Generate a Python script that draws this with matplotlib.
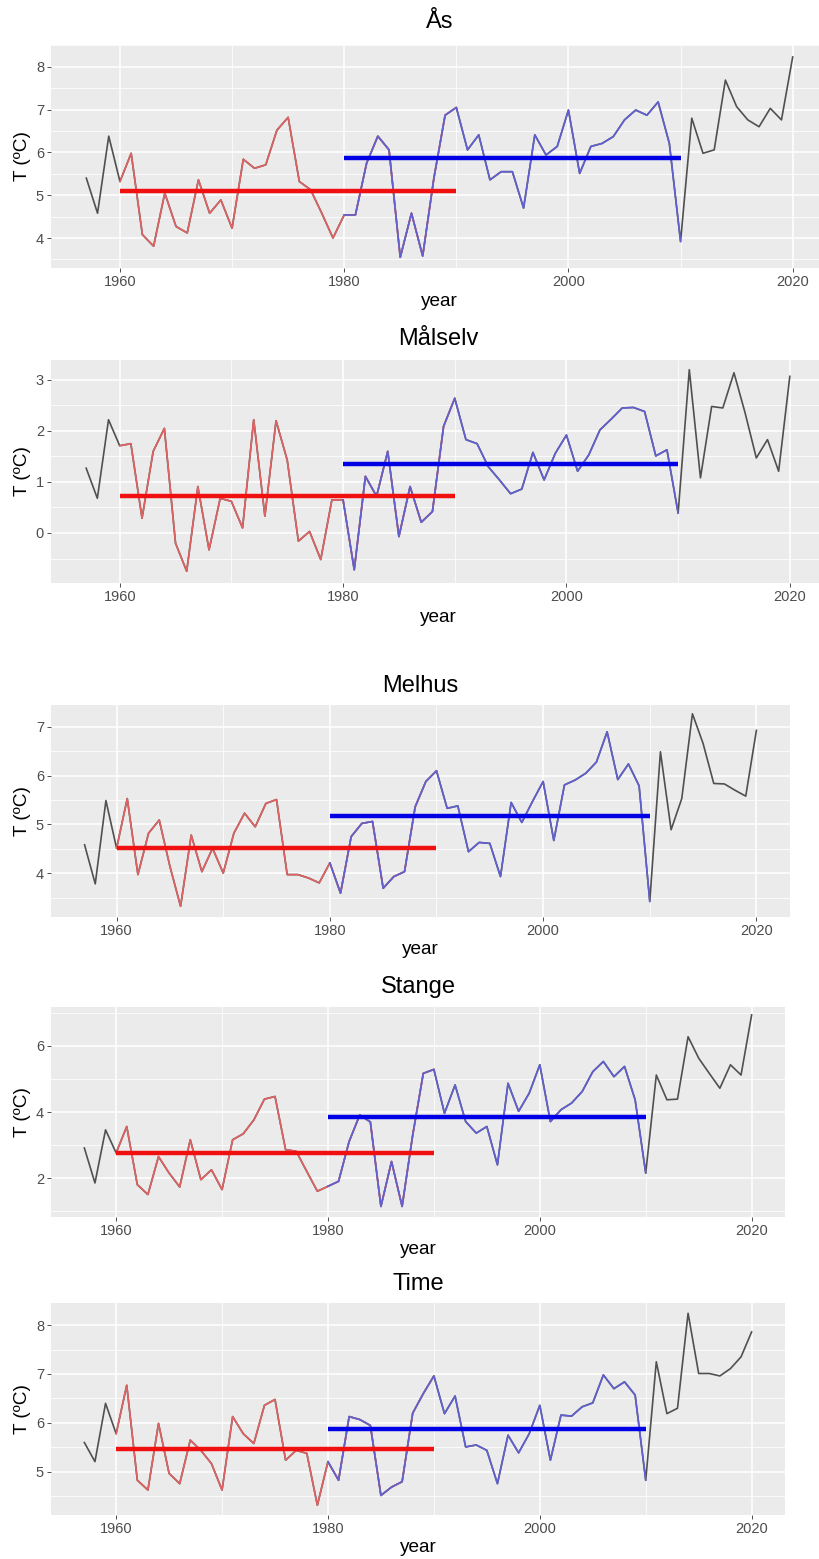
import numpy as np
import matplotlib
matplotlib.use("Agg")
import matplotlib.pyplot as plt
from matplotlib.ticker import MultipleLocator

plt.rcParams["font.family"] = ["Liberation Sans", "DejaVu Sans"]

# annual mean temperature, 1957-2020
years = np.arange(1957, 2021)

stations = ["Ås", "Målselv", "Melhus", "Stange", "Time"]

t_as = [5.40, 4.58, 6.38, 5.32, 5.98, 4.08, 3.81, 5.05, 4.27, 4.12,
        5.36, 4.58, 4.89, 4.23, 5.84, 5.63, 5.71, 6.52, 6.82, 5.32,
        5.13, 4.58, 4.00, 4.54, 4.54, 5.75, 6.38, 6.06, 3.55, 4.58,
        3.58, 5.40, 6.87, 7.05, 6.06, 6.41, 5.36, 5.55, 5.55, 4.70,
        6.41, 5.94, 6.14, 6.99, 5.51, 6.14, 6.21, 6.37, 6.76, 6.99,
        6.87, 7.18, 6.21, 3.92, 6.80, 5.98, 6.06, 7.69, 7.07, 6.76,
        6.60, 7.03, 6.76, 8.23]

t_malselv = [1.27, 0.68, 2.22, 1.71, 1.75, 0.29, 1.60, 2.05, -0.20, -0.75,
             0.91, -0.33, 0.68, 0.62, 0.10, 2.22, 0.33, 2.20, 1.43, -0.16,
             0.03, -0.52, 0.65, 0.65, -0.72, 1.11, 0.72, 1.60, -0.07, 0.91,
             0.21, 0.42, 2.09, 2.64, 1.83, 1.75, 1.30, 1.04, 0.77, 0.86,
             1.58, 1.04, 1.56, 1.92, 1.21, 1.53, 2.02, 2.23, 2.45, 2.46,
             2.38, 1.51, 1.63, 0.39, 3.20, 1.08, 2.48, 2.45, 3.14, 2.35,
             1.47, 1.83, 1.21, 3.07]

t_melhus = [4.58, 3.78, 5.49, 4.51, 5.53, 3.97, 4.82, 5.09, 4.14, 3.32,
            4.78, 4.03, 4.51, 4.00, 4.82, 5.23, 4.95, 5.43, 5.51, 3.97,
            3.97, 3.90, 3.80, 4.21, 3.59, 4.75, 5.02, 5.06, 3.69, 3.93,
            4.03, 5.36, 5.88, 6.10, 5.33, 5.38, 4.44, 4.63, 4.61, 3.93,
            5.45, 5.04, 5.47, 5.88, 4.67, 5.81, 5.91, 6.05, 6.28, 6.90,
            5.92, 6.24, 5.79, 3.42, 6.49, 4.89, 5.53, 7.27, 6.66, 5.84,
            5.83, 5.70, 5.58, 6.93]

t_stange = [2.91, 1.85, 3.46, 2.76, 3.56, 1.80, 1.50, 2.65, 2.15, 1.73,
            3.16, 1.95, 2.25, 1.65, 3.16, 3.34, 3.76, 4.39, 4.47, 2.86,
            2.81, 2.20, 1.60, 1.75, 1.90, 3.11, 3.91, 3.70, 1.14, 2.50,
            1.14, 3.30, 5.17, 5.29, 3.96, 4.82, 3.71, 3.36, 3.56, 2.40,
            4.87, 4.02, 4.57, 5.43, 3.71, 4.07, 4.27, 4.62, 5.22, 5.53,
            5.07, 5.38, 4.37, 2.15, 5.12, 4.37, 4.39, 6.28, 5.63, 5.17,
            4.72, 5.43, 5.12, 6.94]

t_time = [5.60, 5.21, 6.40, 5.78, 6.77, 4.83, 4.63, 5.99, 4.97, 4.76,
          5.65, 5.44, 5.17, 4.63, 6.13, 5.78, 5.58, 6.36, 6.48, 5.24,
          5.44, 5.38, 4.32, 5.21, 4.83, 6.13, 6.07, 5.95, 4.52, 4.69,
          4.80, 6.20, 6.60, 6.96, 6.19, 6.55, 5.51, 5.55, 5.44, 4.76,
          5.75, 5.39, 5.78, 6.36, 5.24, 6.16, 6.14, 6.33, 6.41, 6.98,
          6.70, 6.84, 6.57, 4.83, 7.25, 6.19, 6.30, 8.24, 7.01, 7.01,
          6.96, 7.11, 7.35, 7.86]

series = [t_as, t_malselv, t_melhus, t_stange, t_time]

# normal periods and their means
period_old = [1960, 1990]
period_new = [1980, 2010]
mean_old = [5.11, 0.72, 4.51, 2.76, 5.46]
mean_new = [5.86, 1.35, 5.17, 3.86, 5.87]

x_ticks = [1960, 1980, 2000, 2020]

# layout, in pixels of the 820x1559 canvas: left, top, right, bottom
W, H = 820, 1559
boxes = [(51, 45, 828, 268), (51, 360, 825, 583), (51, 705, 790, 917),
         (51, 1007, 785, 1217), (51, 1303, 785, 1515)]
title_y = [22, 339, 686, 987, 1284]
xlab_y = [302, 617, 950, 1250, 1548]
ylims = [(3.30, 8.51), (-0.98, 3.39), (3.10, 7.45), (0.82, 7.18), (4.12, 8.45)]
y_step = [1, 1, 1, 2, 1]

fig = plt.figure(figsize=(W / 100, H / 100), dpi=100)

for i, name in enumerate(stations):
    l, t, r, b = boxes[i]
    ax = fig.add_axes([l / W, 1 - b / H, (r - l) / W, (b - t) / H])
    ax.set_facecolor("#EBEBEB")
    for s in ax.spines.values():
        s.set_visible(False)

    vals = np.array(series[i])
    old = (years >= period_old[0]) & (years <= period_old[1])
    new = (years >= period_new[0]) & (years <= period_new[1])

    ax.plot(years, vals, color="#505050", lw=1.2, zorder=2)
    ax.plot(years[old], vals[old], color="#E06262", lw=1.2, zorder=3)
    ax.plot(years[new], vals[new], color="#6060D2", lw=1.2, zorder=4)

    ax.hlines(mean_old[i], period_old[0], period_old[1], color="#F01010",
              lw=3.2, zorder=5)
    ax.hlines(mean_new[i], period_new[0], period_new[1], color="#0000E6",
              lw=3.2, zorder=6)

    ax.set_xlim(1953.85, 2023.15)
    ax.set_ylim(*ylims[i])
    ax.set_xticks(x_ticks)
    ax.xaxis.set_minor_locator(MultipleLocator(10))
    ax.yaxis.set_major_locator(MultipleLocator(y_step[i]))
    ax.yaxis.set_minor_locator(MultipleLocator(y_step[i] / 2))

    ax.grid(which="major", color="white", lw=1.1)
    ax.grid(which="minor", color="white", lw=0.55)
    ax.set_axisbelow(True)

    ax.tick_params(which="major", length=2.8, width=0.6, color="#333333",
                   labelsize=10.5, labelcolor="#4D4D4D", pad=2.2)
    ax.tick_params(which="minor", length=0)

    cx = (l + min(r, W + 8)) / 2 / W
    fig.text(cx, 1 - title_y[i] / H, name, ha="center", va="center",
             fontsize=17, color="black")
    fig.text(cx, 1 - xlab_y[i] / H, "year", ha="center", va="center",
             fontsize=13.7, color="black")
    fig.text(23 / W, 1 - (t + b) / 2 / H, "T (ºC)", ha="center", va="center",
             rotation=90, fontsize=13.7, color="black")

fig.savefig("out.png", dpi=100, facecolor="white")
